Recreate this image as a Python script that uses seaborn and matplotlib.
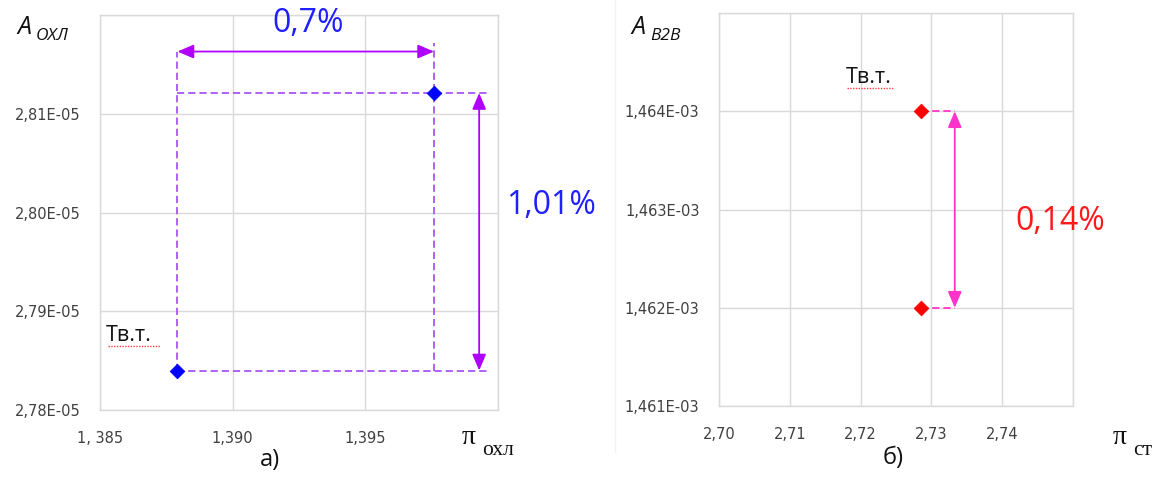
import matplotlib
matplotlib.use("Agg")
import matplotlib.pyplot as plt
import seaborn as sns
import pandas as pd
from matplotlib.lines import Line2D

# ---- data -------------------------------------------------------------
# panel a): cooling-air parameter vs. pressure ratio
pi_ohl = [1.38792, 1.39759]
a_ohl = [2.7840e-05, 2.8121e-05]
ohl_xticks = [1.385, 1.390, 1.395, 1.400]
ohl_xlabels = ["1, 385", "1,390", "1,395", ""]
ohl_yticks = [2.78e-05, 2.79e-05, 2.80e-05, 2.81e-05, 2.82e-05]
ohl_ylabels = ["2,78E-05", "2,79E-05", "2,80E-05", "2,81E-05", ""]
ohl_dx_label = "0,7%"
ohl_dy_label = "1,01%"

# panel б): B2B parameter vs. stage pressure ratio
pi_st = [2.7286, 2.7286]
a_b2b = [1.462e-03, 1.464e-03]
st_xticks = [2.70, 2.71, 2.72, 2.73, 2.74, 2.75]
st_xlabels = ["2,70", "2,71", "2,72", "2,73", "2,74", ""]
st_yticks = [1.461e-03, 1.462e-03, 1.463e-03, 1.464e-03, 1.465e-03]
st_ylabels = ["1,461E-03", "1,462E-03", "1,463E-03", "1,464E-03", ""]
st_dy_label = "0,14%"

# ---- style --------------------------------------------------------------
sns.set_style("whitegrid")
plt.rcParams["font.family"] = ["DejaVu Sans"]

W, H = 1158, 479
fig = plt.figure(figsize=(W / 100, H / 100), dpi=100)
fig.patch.set_facecolor("white")


def px_axes(x0, y0, x1, y1):
    return fig.add_axes([x0 / W, 1 - y1 / H, (x1 - x0) / W, (y1 - y0) / H])


GRID = "#d9d9d9"
TICK = "#404040"
PURPLE = "#b000ff"
PURPLE_DASH = "#a855f7"
MAGENTA = "#ff33cc"


def style_axes(ax, xt, xl, yt, yl):
    ax.set_xlim(xt[0], xt[-1])
    ax.set_ylim(yt[0], yt[-1])
    ax.set_xticks(xt)
    ax.set_xticklabels(xl)
    ax.set_yticks(yt)
    ax.set_yticklabels(yl)
    ax.grid(True, color=GRID, lw=1.0)
    for s in ax.spines.values():
        s.set_color(GRID)
        s.set_linewidth(1.0)
    ax.tick_params(length=0, labelsize=10.5, colors=TICK)
    ax.tick_params(axis="y", pad=14)
    ax.tick_params(axis="x", pad=15)
    ax.set_xlabel("")
    ax.set_ylabel("")
    ax.set_axisbelow(True)


def dline(ax, xs, ys, color):
    ax.plot(xs, ys, color=color, lw=1.3, ls=(0, (4, 2.2)), zorder=2)


def darrow(ax, p0, p1, color):
    ax.annotate("", xy=p1, xytext=p0,
                arrowprops=dict(arrowstyle="<|-|>,head_length=0.7,head_width=0.3",
                                color=color, lw=1.3, mutation_scale=14,
                                shrinkA=0, shrinkB=0), zorder=3)


# ---- panel a) -----------------------------------------------------------
ax1 = px_axes(100, 15, 498, 410)
df1 = pd.DataFrame({"pi": pi_ohl, "A": a_ohl})

x_lo, x_hi = pi_ohl
y_lo, y_hi = a_ohl
y_arr = 2.8163e-05
y_top = 2.8172e-05
x_varr = 1.39929
x_end = 1.39959

dline(ax1, [x_lo, x_lo], [y_lo, y_arr], PURPLE_DASH)
dline(ax1, [x_hi, x_hi], [y_lo, y_top], PURPLE_DASH)
dline(ax1, [x_lo, x_end], [y_hi, y_hi], PURPLE_DASH)
dline(ax1, [x_lo, x_end], [y_lo, y_lo], PURPLE_DASH)
darrow(ax1, (x_lo, y_arr), (x_hi, y_arr), PURPLE)
darrow(ax1, (x_varr, y_hi), (x_varr, y_lo), PURPLE)
sns.scatterplot(data=df1, x="pi", y="A", ax=ax1, marker="D", s=55,
                color="#0000ff", edgecolor="#0000ff", zorder=5, legend=False)
style_axes(ax1, ohl_xticks, ohl_xlabels, ohl_yticks, ohl_ylabels)

# ---- panel б) -----------------------------------------------------------
ax2 = px_axes(719, 13, 1073, 406)
df2 = pd.DataFrame({"pi": pi_st, "A": a_b2b})
x_pt = pi_st[0]
x_arr2 = 2.7333
for yv in a_b2b:
    dline(ax2, [x_pt, x_arr2], [yv, yv], MAGENTA)
darrow(ax2, (x_arr2, a_b2b[1]), (x_arr2, a_b2b[0]), MAGENTA)
sns.scatterplot(data=df2, x="pi", y="A", ax=ax2, marker="D", s=55,
                color="#ff0000", edgecolor="#ff0000", zorder=5, legend=False)
style_axes(ax2, st_xticks, st_xlabels, st_yticks, st_ylabels)

# faint chart-area frame of the second chart
fig.add_artist(Line2D([615 / W, 615 / W], [1, 1 - 452 / H],
                      transform=fig.transFigure, color="#f2f2f2", lw=1))

# ---- texts --------------------------------------------------------------
def ftext(x, y, s, **kw):
    fig.text(x / W, 1 - y / H, s, **kw)


SANS = ["Open Sans", "DejaVu Sans"]
SERIF = ["Liberation Serif", "DejaVu Serif"]
INK = "#111111"

# axis names
ftext(17, 34, "A", fontsize=18, style="italic", family=SANS, color=INK, va="baseline")
ftext(36, 40, "ОХЛ", fontsize=12.5, style="italic", family=SANS, color=INK, va="baseline")
ftext(631, 34, "A", fontsize=18, style="italic", family=SANS, color=INK, va="baseline")
ftext(650, 40, "B2B", fontsize=12.5, style="italic", family=SANS, color=INK, va="baseline")

ftext(462, 444, "π", fontsize=20, family=SERIF, color=INK, va="baseline")
ftext(482, 455, "охл", fontsize=15.5, family=SERIF, color=INK, va="baseline")
ftext(1113, 444, "π", fontsize=20, family=SERIF, color=INK, va="baseline")
ftext(1133, 455, "ст", fontsize=15.5, family=SERIF, color=INK, va="baseline")

# panel captions
ftext(270, 460, "а)", fontsize=17, family=SANS, color=INK, ha="center", va="center")
ftext(893, 458, "б)", fontsize=17, family=SANS, color=INK, ha="center", va="center")

# point names with spell-check underline
ftext(106, 341, "Тв.т.", fontsize=15.5, family=SANS, color=INK, va="baseline")
fig.add_artist(Line2D([108 / W, 160 / W], [1 - 346 / H, 1 - 346 / H],
                      transform=fig.transFigure, color="#ff4040", lw=1.0, ls=(0, (1, 1))))
ftext(846, 83, "Тв.т.", fontsize=15.5, family=SANS, color=INK, va="baseline")
fig.add_artist(Line2D([847 / W, 893 / W], [1 - 88 / H, 1 - 88 / H],
                      transform=fig.transFigure, color="#ff4040", lw=1.0, ls=(0, (1, 1))))

# percentage labels
ftext(308, 24, ohl_dx_label, fontsize=23, family=SANS, color="#1f1fff", ha="center", va="center")
ftext(551, 206, ohl_dy_label, fontsize=23, family=SANS, color="#1f1fff", ha="center", va="center")
ftext(1060, 221, st_dy_label, fontsize=23, family=SANS, color="#ff1a1a", ha="center", va="center")

fig.savefig("out.png", dpi=100, facecolor="white")
